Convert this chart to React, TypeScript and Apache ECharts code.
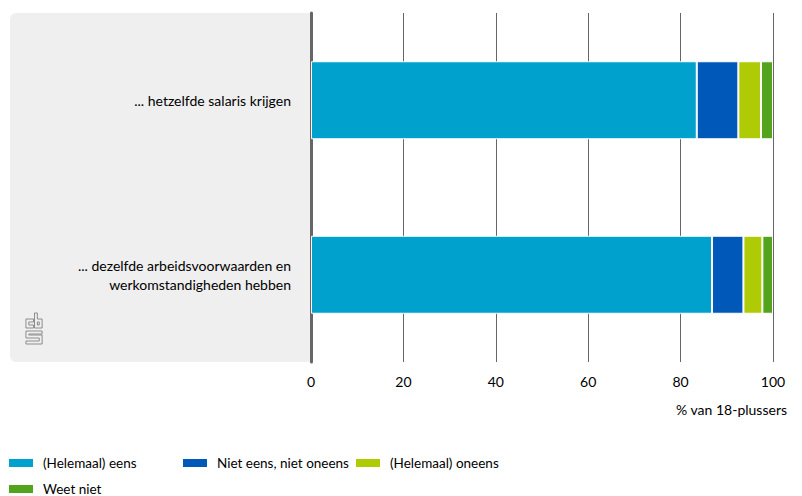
import React, { useEffect, useRef } from "react";
import * as echarts from "echarts";

const categories = [
  "... hetzelfde salaris krijgen",
  "... dezelfde arbeidsvoorwaarden en\nwerkomstandigheden hebben",
];
const seriesNames = ["(Helemaal) eens", "Niet eens, niet oneens", "(Helemaal) oneens", "Weet niet"];
const seriesColors = ["#00a1cd", "#0058b8", "#afcb05", "#53a31d"];
const eens = [83.5, 86.8];
const neutraal = [9.0, 6.8];
const oneens = [4.9, 4.1];
const weetNiet = [2.6, 2.3];
const xTicks = { min: 0, max: 100, interval: 20 };
const axisName = "% van 18-plussers";

const FONT = "Lato, 'Noto Sans', sans-serif";

const logoPath =
  "M9 6 H1 V15 H9 V12 H4 V9 H9 Z M10 0 H13 V6 H18 V15 H10 Z M13 9 V12 H15 V9 Z M18 18 H1 V25 H15 V28 H1 V31 H18 V22 H4 V21 H18 Z";

export default function App() {
  const ref = useRef<HTMLDivElement>(null);
  useEffect(() => {
    if (!ref.current) return;
    echarts.graphic.registerShape("logo", echarts.graphic.extendPath(logoPath, {}));
    const chart = echarts.init(ref.current, undefined, { renderer: "svg" });
    const values = [eens, neutraal, oneens, weetNiet];
    const legendPos = [
      { left: 7, top: 456 },
      { left: 181, top: 456 },
      { left: 354, top: 456 },
      { left: 7, top: 482 },
    ];
    chart.setOption({
      animation: false,
      textStyle: { fontFamily: FONT },
      grid: { left: 311, right: 29, top: 13, height: 349, containLabel: false },
      graphic: [
        {
          type: "rect",
          z: -10,
          shape: { x: 10, y: 13, width: 300, height: 349, r: [6, 0, 0, 6] },
          style: { fill: "#efefef" },
        },
        {
          type: "logo",
          z: -5,
          x: 25,
          y: 313,
          scaleX: 0.95,
          scaleY: 1,
          style: { fill: "none", stroke: "#8a8a8a", lineWidth: 1 },
        },
      ],
      legend: seriesNames.map((n, i) => ({
        data: [n],
        left: legendPos[i].left,
        top: legendPos[i].top,
        padding: 0,
        icon: "rect",
        itemWidth: 26,
        itemHeight: 10,
        selectedMode: false,
        textStyle: { fontSize: 13.5, color: "#000", fontFamily: FONT, padding: [0, 0, 0, 4] },
      })),
      xAxis: {
        type: "value",
        min: xTicks.min,
        max: xTicks.max,
        interval: xTicks.interval,
        name: axisName,
        nameLocation: "end",
        nameGap: 14,
        nameTextStyle: {
          align: "right",
          verticalAlign: "top",
          fontSize: 14,
          color: "#000",
          padding: [40, 0, 0, 0],
        },
        axisLine: { show: false },
        axisTick: { show: false },
        axisLabel: { fontSize: 14, color: "#000", margin: 12 },
        splitLine: { lineStyle: { color: "#666", width: 1 } },
      },
      yAxis: {
        type: "category",
        inverse: true,
        data: categories,
        axisLine: { show: true, lineStyle: { color: "#666", width: 3 } },
        axisTick: { show: false },
        axisLabel: { fontSize: 14, color: "#000", margin: 20, lineHeight: 19 },
      },
      series: seriesNames.map((n, i) => ({
        name: n,
        type: "bar",
        stack: "total",
        barWidth: 78,
        data: values[i],
        itemStyle: { color: seriesColors[i], borderColor: "#fff", borderWidth: 1 },
        emphasis: { disabled: true },
      })),
    });
    return () => chart.dispose();
  }, []);
  return <div ref={ref} style={{ position: "absolute", left: 0, top: 0, width: 802, height: 496 }} />;
}
